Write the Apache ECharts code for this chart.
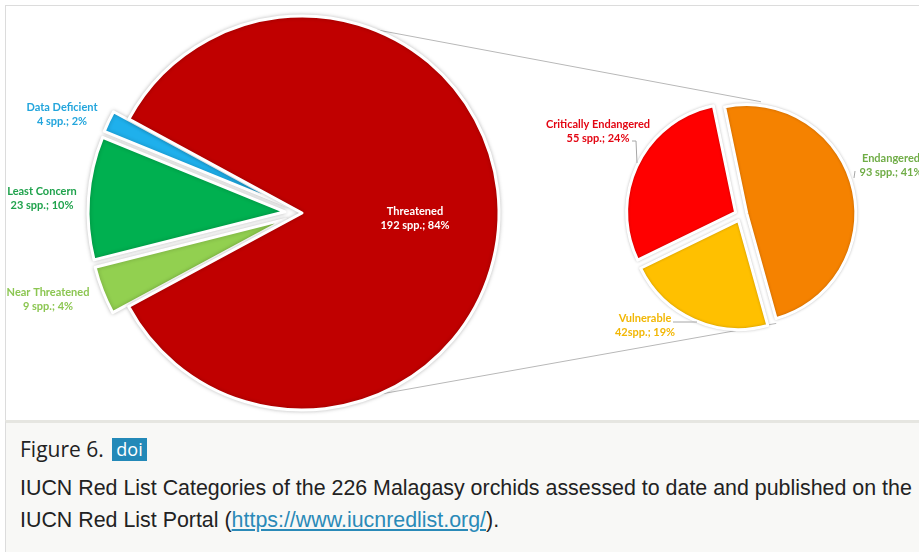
<!DOCTYPE html>
<html><head><meta charset="utf-8">
<script src="https://cdn.jsdelivr.net/npm/echarts@6.0.0/dist/echarts.min.js"></script>
<style>
html,body{margin:0;padding:0;width:919px;height:552px;overflow:hidden;background:#fff;}
#box{position:absolute;left:5px;top:5px;width:914px;height:415px;border-left:1px solid #dcdcdc;border-top:1px solid #dcdcdc;}
#chart{position:absolute;left:0;top:0;width:919px;height:421px;}
#cap{position:absolute;left:5px;top:420px;width:914px;height:129px;background:#f8f8f6;border-top:3px solid #e6e6e1;border-left:1px solid #dcdcdc;}
#fig{position:absolute;left:20px;top:439px;font-family:"Open Sans";font-size:21px;line-height:21px;color:#222;white-space:nowrap;}
#doi{position:absolute;left:112px;top:438px;width:35px;height:23px;background:#2389b8;color:#fff;font-family:"Open Sans";font-size:18px;line-height:22px;text-align:center;}
#txt{position:absolute;left:20px;top:472px;width:899px;font-family:"Liberation Sans";font-size:21.4px;line-height:32px;color:#222;white-space:nowrap;}
#txt a{color:#2a8ab8;text-decoration:underline;}
</style>
</head><body>
<div id="box"></div>
<div id="cap"></div>
<div id="chart"></div>
<div id="fig">Figure 6.</div>
<div id="doi">doi</div>
<div id="txt">IUCN Red List Categories of the 226 Malagasy orchids assessed to date and published on the<br>IUCN Red List Portal (<a href="https://www.iucnredlist.org/">https://www.iucnredlist.org/</a>).</div>
<script>
const mainCategories = ['Data Deficient', 'Least Concern', 'Near Threatened', 'Threatened'];
const mainValues = [4, 23, 9, 192];
const mainValueText = ['4 spp.; 2%', '23 spp.; 10%', '9 spp.; 4%', '192 spp.; 84%'];
const subCategories = ['Critically Endangered', 'Endangered', 'Vulnerable'];
const subValues = [55, 93, 42];
const subValueText = ['55 spp.; 24%', '93 spp.; 41%', '42spp.; 19%'];

const mainColors = ['#1fb0ec', '#00b050', '#92d050', '#c00000'];
const mainLabelColors = ['#22a5dc', '#1fa24c', '#8cc652', '#ffffff'];
const subColors = ['#ff0000', '#f58200', '#ffc000'];
const subLabelColors = ['#e30613', '#70ad47', '#f2b705'];

const C1 = [302, 213], R1 = 197;
const C2 = [741, 215], R2 = 109;
const mainLabelPos = [[-240, -99], [-260, -15], [-254, 86], [113, 5]];
const subLabelPos = [[-143, -84], [150, -50], [-96, 110]];
const subLeaderRel = [[[-109, -74], [-105, -74], [-104, -52]], [[114, -44], [113, -37]], [[-68, 107], [-44, 107]]];

function pt(c, r, deg) { const a = deg * Math.PI / 180; return [c[0] + r * Math.cos(a), c[1] - r * Math.sin(a)]; }

const chart = echarts.init(document.getElementById('chart'), null, {renderer: 'canvas'});
const labelFont = {fontFamily: 'Lato', fontWeight: 'bold', fontSize: 11, lineHeight: 14, overflow: 'none'};
const topA = pt(C1, R1, 69), topB = pt(C2, R2 + 6, 80);
const botA = pt(C1, R1, -67), botB = pt(C2, R2 + 5, -72);

function drawSeries(cats, vals, colors, center, radius, startAngle, clockwise, offset, isSelected, shadow) {
  return {
    type: 'pie', center, radius, startAngle, clockwise,
    selectedMode: 'multiple', selectedOffset: offset, avoidLabelOverlap: false,
    emphasis: {disabled: true}, z: 2,
    itemStyle: {borderColor: '#fff', borderWidth: 3, shadowBlur: shadow, shadowColor: 'rgba(0,0,0,0.22)'},
    label: {show: false}, labelLine: {show: false},
    data: cats.map((name, i) => ({
      name, value: vals[i], selected: isSelected(i),
      itemStyle: {color: colors[i]},
      select: {itemStyle: {color: colors[i], borderColor: '#fff', borderWidth: 3}}
    }))
  };
}
function labelSeries(cats, vals, texts, labelColors, center, radius, startAngle, clockwise, pos, leaders, insideIdx) {
  const showLine = !!leaders;
  return {
    type: 'pie', center, radius, startAngle, clockwise, silent: true, z: 3,
    avoidLabelOverlap: false, emphasis: {disabled: true},
    itemStyle: {color: 'rgba(0,0,0,0)', borderWidth: 0},
    label: Object.assign({show: true, position: 'outside', formatter: p => p.name + '\n' + texts[p.dataIndex]}, labelFont),
    labelLine: {show: showLine, length: 5, length2: 8, lineStyle: {color: '#a6a6a6', width: 1}},
    labelLayout: p => {
      const o = {x: center[0] + pos[p.dataIndex][0], y: center[1] + pos[p.dataIndex][1], align: 'center', verticalAlign: 'middle'};
      if (leaders) o.labelLinePoints = leaders[p.dataIndex].map(q => [center[0] + q[0], center[1] + q[1]]);
      return o;
    },
    data: cats.map((name, i) => ({
      name, value: vals[i],
      label: {color: labelColors[i], position: i === insideIdx ? 'inside' : 'outside'},
      labelLine: {show: showLine && i !== insideIdx}
    }))
  };
}

chart.setOption({
  animation: false,
  backgroundColor: 'transparent',
  graphic: [
    {type: 'line', z: 0, shape: {x1: topA[0], y1: topA[1], x2: topB[0], y2: topB[1]}, style: {stroke: '#b8b8b8', lineWidth: 1}},
    {type: 'line', z: 0, shape: {x1: botA[0], y1: botA[1], x2: botB[0], y2: botB[1]}, style: {stroke: '#b8b8b8', lineWidth: 1}}
  ],
  series: [
    drawSeries(mainCategories, mainValues, mainColors, C1, R1, 151.5, false, 17, i => i < 3, 4),
    drawSeries(subCategories, subValues, subColors, C2, R2, 206, true, 6, i => true, 3),
    labelSeries(mainCategories, mainValues, mainValueText, mainLabelColors, C1, R1, 151.5, false, mainLabelPos, null, 3),
    labelSeries(subCategories, subValues, subValueText, subLabelColors, C2, R2, 206, true, subLabelPos, subLeaderRel, -1)
  ]
});
</script>
</body></html>
